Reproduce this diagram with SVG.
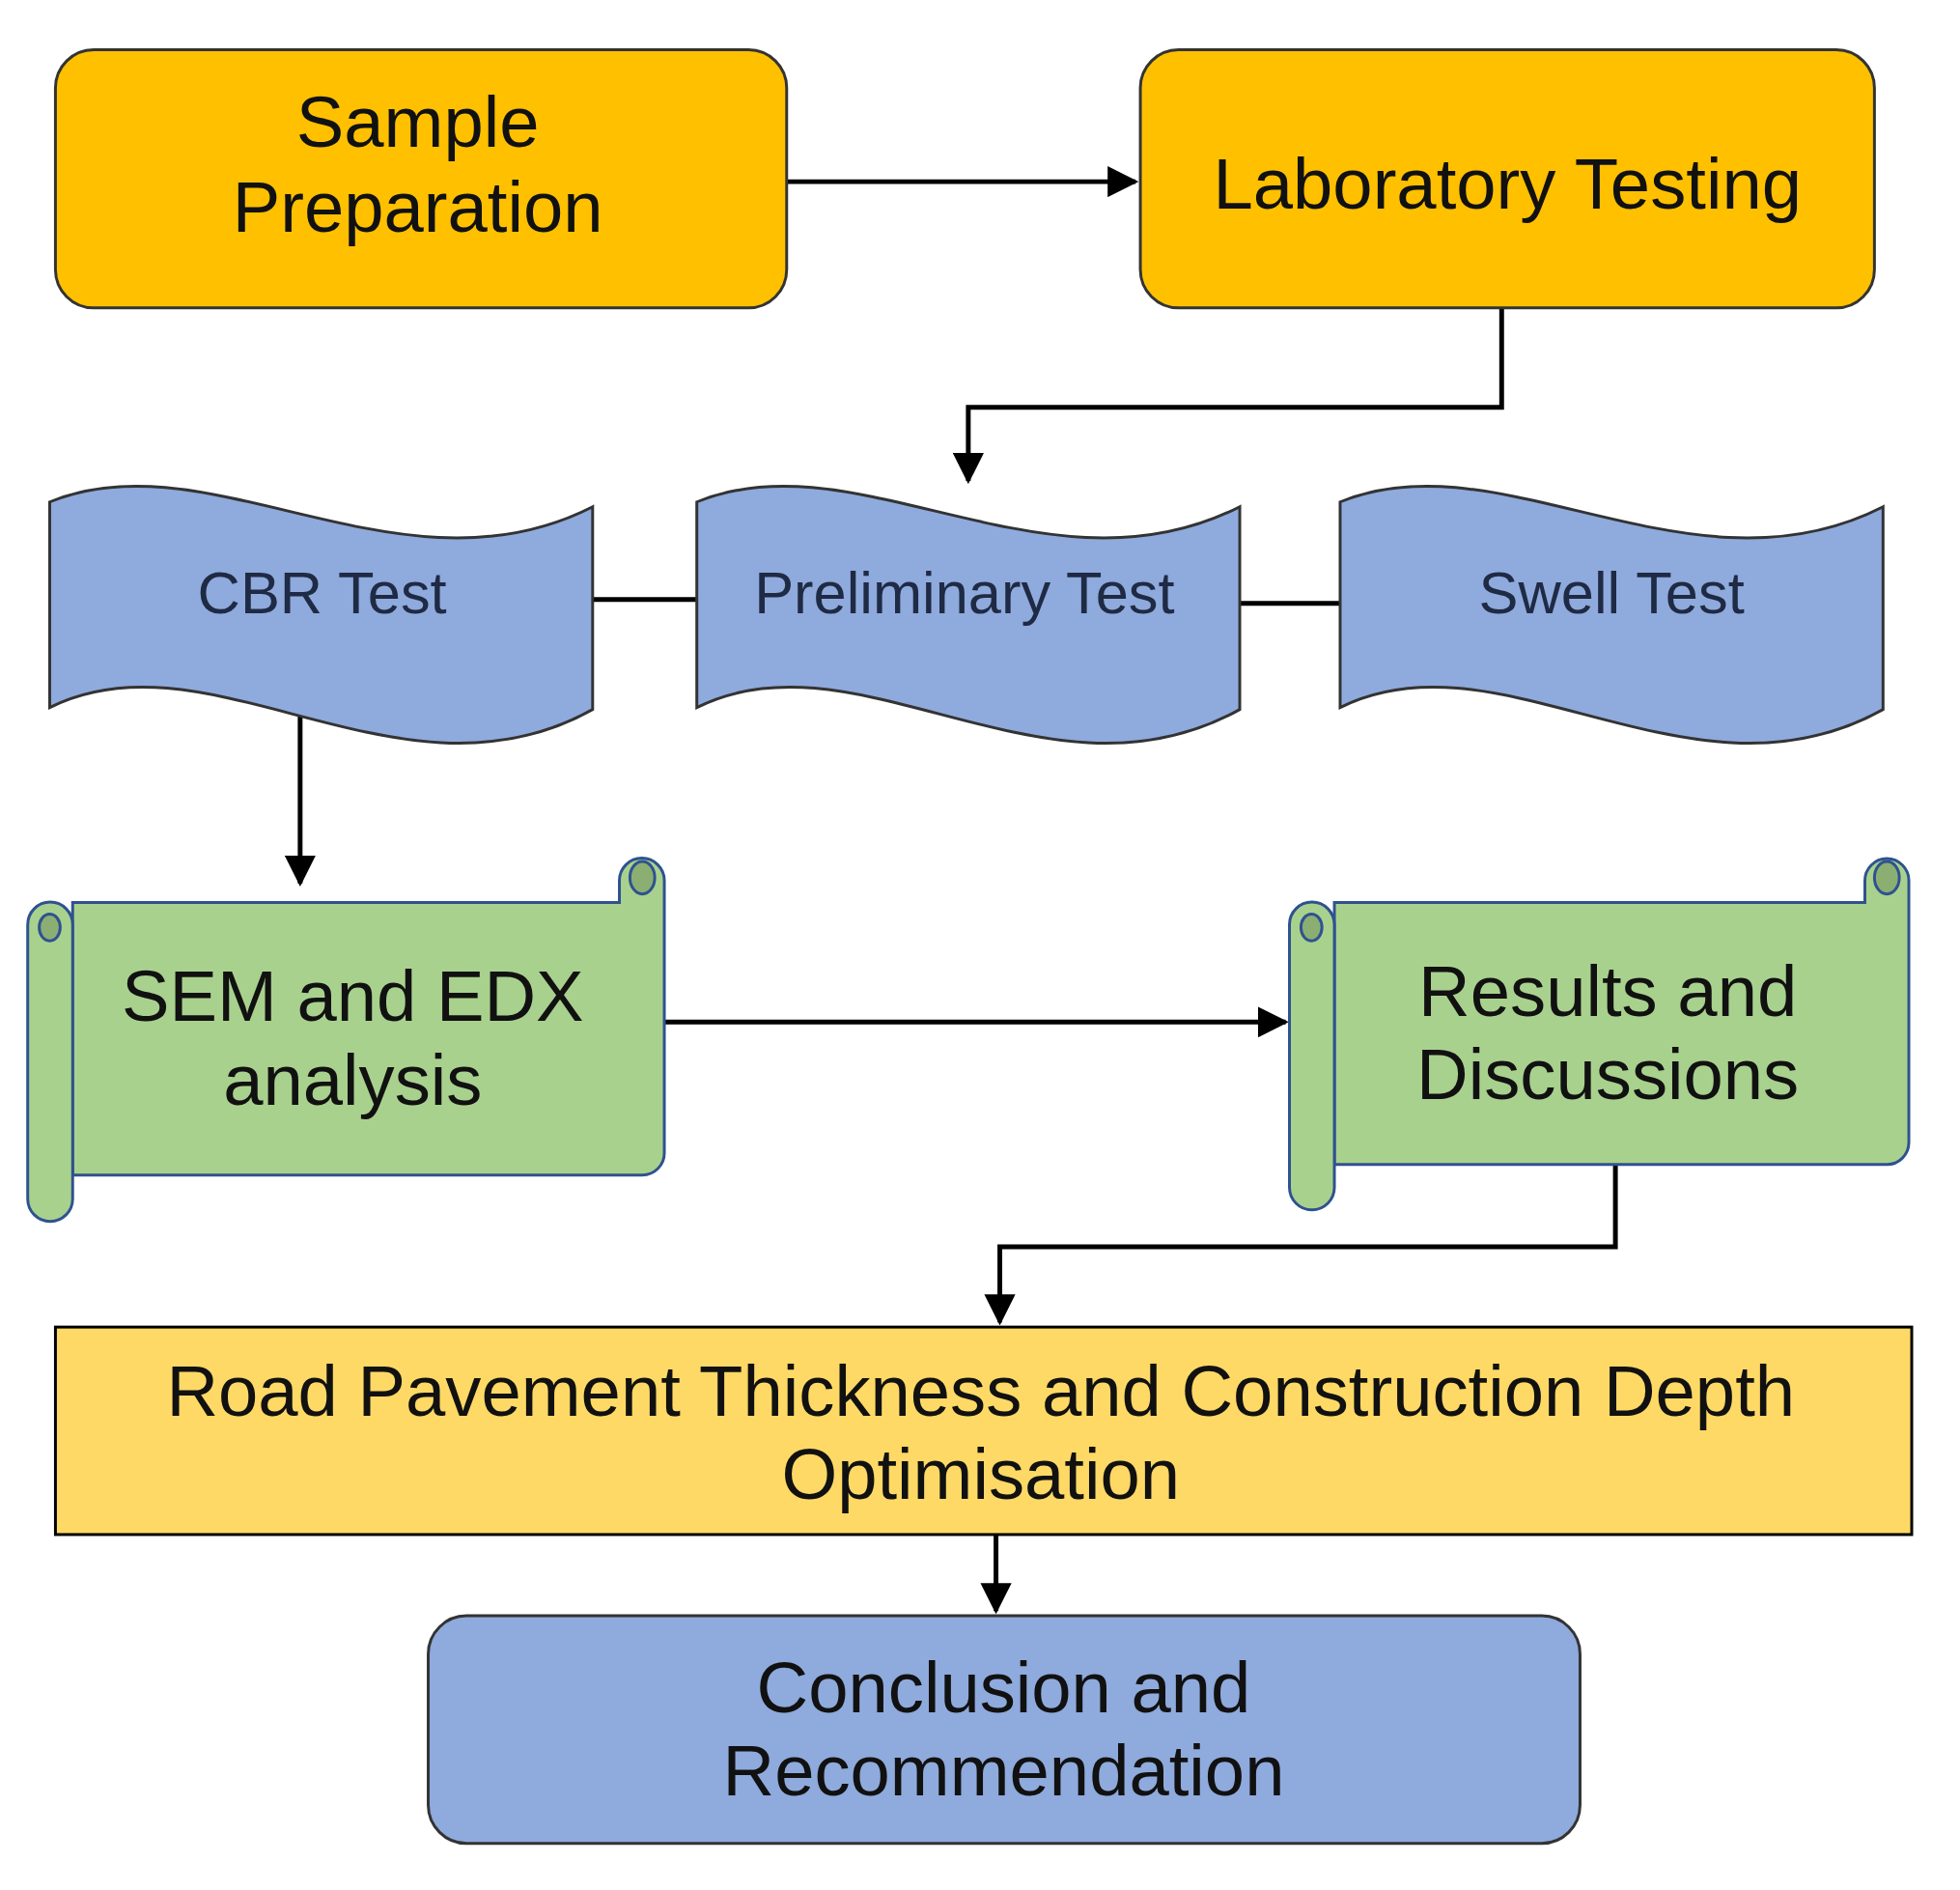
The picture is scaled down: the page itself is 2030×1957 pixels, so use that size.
<svg xmlns="http://www.w3.org/2000/svg" width="2030" height="1957" viewBox="0 0 2030 1957">
<defs>
<style>
.t{font-family:"Liberation Sans",Arial,sans-serif;text-anchor:middle;fill:#111}
.c{fill:none;stroke:#000;stroke-width:5}
.or{fill:#FFC000;stroke:#333;stroke-width:3}
.wv{fill:#8FAADC;stroke:#333;stroke-width:3}
.gr{fill:#A9D18E;stroke:#2F528F;stroke-width:3}
.cu{fill:#8BAF73;stroke:#2F528F;stroke-width:3}
</style>
<marker id="a" viewBox="0 0 10 10" refX="9" refY="5" markerWidth="6.5" markerHeight="6.5" markerUnits="strokeWidth" orient="auto"><path d="M0,0L10,5L0,10Z" fill="#000"/></marker>
<path id="wave" d="M0,31 C168,-38 368,138 568,36 V248 C368,360 168,162 0,246 Z"/>
</defs>
<g transform="scale(0.99)">
<g id="connectors">
<path class="c" d="M823,190H1188" marker-end="url(#a)"/>
<path class="c" d="M1571,322V426H1013V503" marker-end="url(#a)"/>
<path class="c" d="M620,627H729M1297,631H1402"/>
<path class="c" d="M314,732V924" marker-end="url(#a)"/>
<path class="c" d="M695,1069H1345" marker-end="url(#a)"/>
<path class="c" d="M1690,1218V1304H1046V1383" marker-end="url(#a)"/>
<path class="c" d="M1042,1605V1685" marker-end="url(#a)"/>
</g>
<g id="sample"><rect class="or" x="58" y="52" width="765" height="270" rx="40"/>
<text class="t" font-size="75" x="437" y="154">Sample</text><text class="t" font-size="75" x="437" y="242">Preparation</text></g>
<g id="lab"><rect class="or" x="1193" y="52" width="768" height="270" rx="40"/>
<text class="t" font-size="75" x="1577" y="218">Laboratory Testing</text></g>
<g id="cbr"><use href="#wave" class="wv" x="52" y="494"/><text class="t" font-size="62" x="337" y="641" style="fill:#1f2a44">CBR Test</text></g>
<g id="prelim"><use href="#wave" class="wv" x="729" y="494"/><text class="t" font-size="62" x="1009" y="641" style="fill:#1f2a44">Preliminary Test</text></g>
<g id="swell"><use href="#wave" class="wv" x="1402" y="494"/><text class="t" font-size="62" x="1686" y="641" style="fill:#1f2a44">Swell Test</text></g>
<g id="sem">
<path class="gr" d="M76,944H648V921A23.5,23.5 0 0 1 695,921V1206A23,23 0 0 1 672,1229H76Z"/>
<path class="gr" d="M29,967A23.5,23.5 0 0 1 76,967V1254A23.5,23.5 0 0 1 29,1254Z"/>
<ellipse class="cu" cx="52" cy="970" rx="11" ry="14"/>
<ellipse class="cu" cx="672" cy="918" rx="13" ry="17"/>
<text class="t" font-size="75" x="369" y="1068">SEM and EDX</text><text class="t" font-size="75" x="369" y="1156">analysis</text></g>
<g id="results">
<path class="gr" d="M1396,944H1951V921A23,23 0 0 1 1997,921V1195A23,23 0 0 1 1974,1218H1396Z"/>
<path class="gr" d="M1349,967A23.5,23.5 0 0 1 1396,967V1242A23.5,23.5 0 0 1 1349,1242Z"/>
<ellipse class="cu" cx="1372" cy="970" rx="11" ry="14"/>
<ellipse class="cu" cx="1974" cy="918" rx="13" ry="17"/>
<text class="t" font-size="75" x="1682" y="1063">Results and</text><text class="t" font-size="75" x="1682" y="1150">Discussions</text></g>
<g id="road"><rect x="58" y="1388" width="1942" height="217" fill="#FFD966" stroke="#000" stroke-width="3"/>
<text class="t" font-size="75" x="1026" y="1481">Road Pavement Thickness and Construction Depth</text><text class="t" font-size="75" x="1026" y="1568">Optimisation</text></g>
<g id="conclusion"><rect x="448" y="1690" width="1205" height="238" rx="40" fill="#8FAADC" stroke="#333" stroke-width="3"/>
<text class="t" font-size="75" x="1050" y="1791">Conclusion and</text><text class="t" font-size="75" x="1050" y="1878">Recommendation</text></g>
</g>
</svg>
